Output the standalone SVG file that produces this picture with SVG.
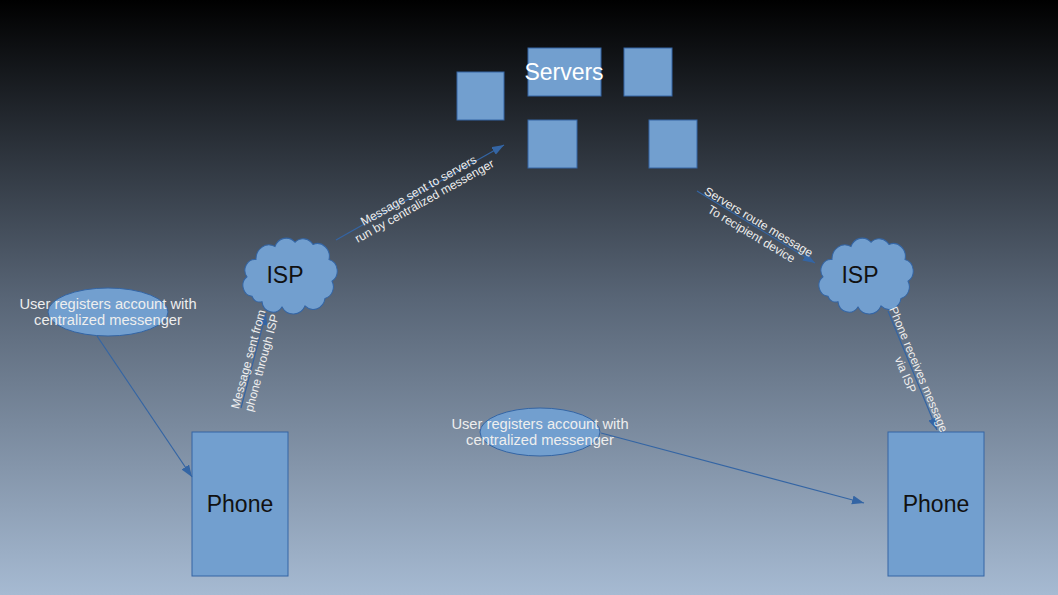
<svg xmlns="http://www.w3.org/2000/svg" width="1058" height="595" viewBox="0 0 1058 595">
  <defs>
    <linearGradient id="bg" x1="0" y1="0" x2="0" y2="1">
      <stop offset="0" stop-color="#000000"/>
      <stop offset="0.5" stop-color="#586576"/>
      <stop offset="1" stop-color="#a6bad2"/>
    </linearGradient>
    <marker id="arr" markerUnits="userSpaceOnUse" markerWidth="13" markerHeight="10" refX="12" refY="4.5" orient="auto">
      <path d="M0,0 L12,4.5 L0,9 Z" fill="#3465a4"/>
    </marker>
    <path id="cloud" d="M11,53 A10,10 0 0 1 6,35 A10,10 0 0 1 15,19 A13,13 0 0 1 34,7 A12,12 0 0 1 54,3 A12,12 0 0 1 72,5 A12,12 0 0 1 88,19 A11,11 0 0 1 91,39 A11,11 0 0 1 84,55 A12,12 0 0 1 64,62 A13,13 0 0 1 41,63 A11,11 0 0 1 21,58 A8,8 0 0 1 11,53 Z"/>
  </defs>
  <style>
    .shape { fill: #729fcf; stroke: #3465a4; stroke-width: 1; }
    .conn { stroke: #3465a4; stroke-width: 1.2; fill: none; marker-end: url(#arr); }
    .lbl { font-family: "Liberation Sans", Arial, sans-serif; font-size: 12px; fill: #eeeeee; text-anchor: middle; }
    .elbl { font-family: "Liberation Sans", Arial, sans-serif; font-size: 14.7px; fill: #eeeeee; text-anchor: middle; }
    .big { font-family: "Liberation Sans", Arial, sans-serif; font-size: 23px; fill: #111111; text-anchor: middle; }
    .bigw { font-family: "Liberation Sans", Arial, sans-serif; font-size: 23px; fill: #ffffff; text-anchor: middle; }
  </style>
  <rect x="0" y="0" width="1058" height="595" fill="url(#bg)"/>

  <g id="servers">
    <rect class="shape" x="457" y="72" width="47" height="48"/>
    <rect class="shape" x="528" y="48" width="73" height="48"/>
    <rect class="shape" x="624" y="48" width="48" height="48"/>
    <rect class="shape" x="528" y="120" width="49" height="48"/>
    <rect class="shape" x="649" y="120" width="48" height="48"/>
    <text class="bigw" x="564" y="80">Servers</text>
  </g>

  <g id="isp-left">
    <use href="#cloud" class="shape" transform="translate(241,239) scale(1,1.08)"/>
    <text class="big" x="285" y="283">ISP</text>
  </g>

  <g id="isp-right">
    <use href="#cloud" class="shape" transform="translate(817,239) scale(1,1.08)"/>
    <text class="big" x="860" y="283">ISP</text>
  </g>

  <g id="register-left">
    <ellipse class="shape" cx="108" cy="312" rx="60" ry="24"/>
    <text class="elbl" x="108" y="309">User registers account with</text>
    <text class="elbl" x="108" y="325">centralized messenger</text>
  </g>

  <g id="register-middle">
    <ellipse class="shape" cx="540" cy="432" rx="60" ry="24"/>
    <text class="elbl" x="540" y="429">User registers account with</text>
    <text class="elbl" x="540" y="445">centralized messenger</text>
  </g>

  <g id="phone-left">
    <rect class="shape" x="192" y="432" width="96" height="144"/>
    <text class="big" x="240" y="512">Phone</text>
  </g>

  <g id="phone-right">
    <rect class="shape" x="888" y="432" width="96" height="144"/>
    <text class="big" x="936" y="512">Phone</text>
  </g>

  <g id="connectors">
    <line class="conn" x1="336" y1="240" x2="504" y2="145"/>
    <line class="conn" x1="697" y1="191" x2="815" y2="263"/>
    <line class="conn" x1="241" y1="408" x2="266" y2="313"/>
    <line class="conn" x1="97" y1="336" x2="192" y2="477"/>
    <line class="conn" x1="601" y1="433" x2="864" y2="503"/>
    <line class="conn" x1="888" y1="311" x2="937" y2="430"/>

    <g transform="translate(421,195) rotate(-29.3)">
      <text class="lbl" x="0" y="-1">Message sent to servers</text>
      <text class="lbl" x="0" y="11">run by centralized messenger</text>
    </g>
    <g transform="translate(755,228) rotate(31)">
      <text class="lbl" x="0" y="-3">Servers route message</text>
      <text class="lbl" x="0" y="11">To recipient device</text>
    </g>
    <g transform="translate(255,361) rotate(-74.7)">
      <text class="lbl" x="0" y="-3">Message sent from</text>
      <text class="lbl" x="0" y="11">phone through ISP</text>
    </g>
    <g transform="translate(912,372) rotate(67.4)">
      <text class="lbl" x="0" y="-3">Phone receives message</text>
      <text class="lbl" x="0" y="11">via ISP</text>
    </g>
  </g>
</svg>
